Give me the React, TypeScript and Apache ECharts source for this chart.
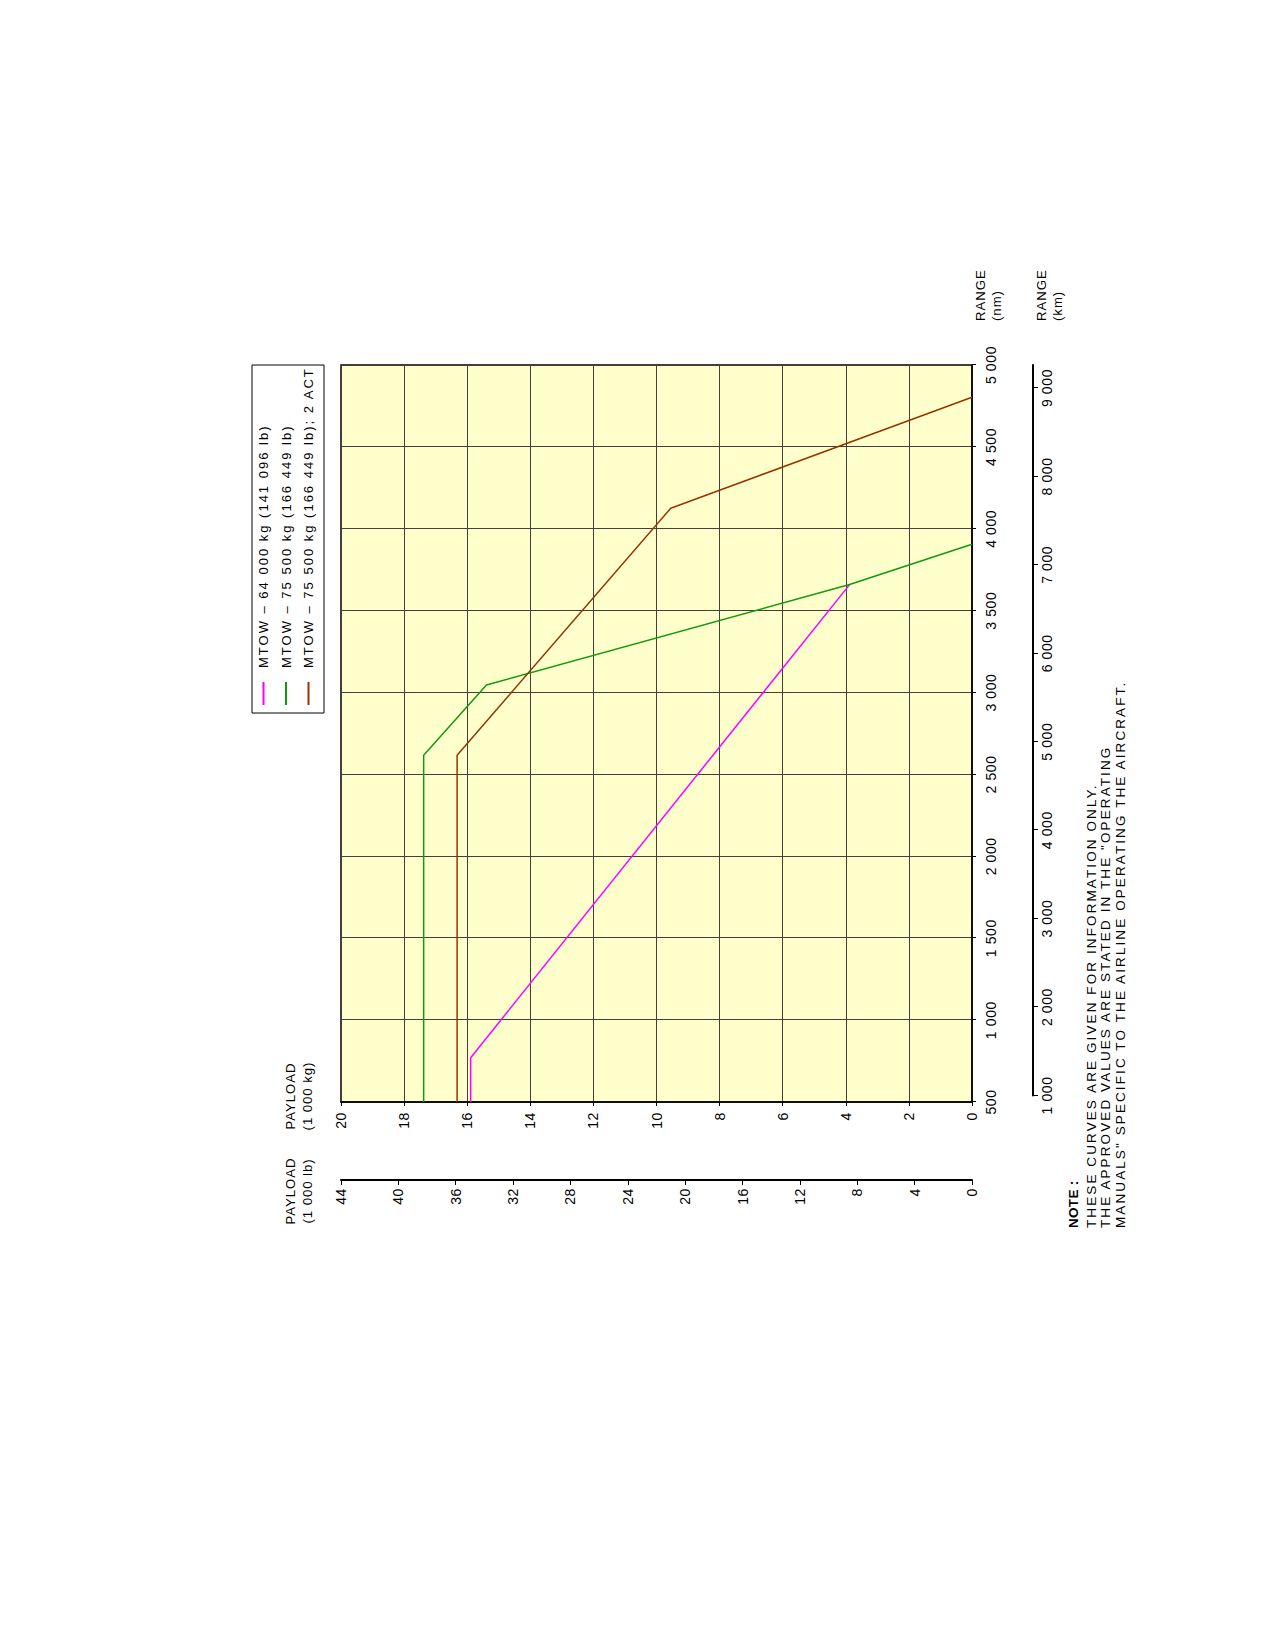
import React, { useEffect, useRef } from "react";
import * as echarts from "echarts";

// ---------- data ----------
const rangeNmMin = 500;
const rangeNmMax = 5000;
const rangeNmStep = 500;
const payloadKgMin = 0;
const payloadKgMax = 20;
const payloadKgStep = 2;
const payloadLbMin = 0;
const payloadLbMax = 44;
const payloadLbStep = 4;
const NM_TO_KM = 1.852;
const rangeKmTicks = [1000, 2000, 3000, 4000, 5000, 6000, 7000, 8000, 9000];

const seriesNames = [
  "MTOW – 64 000 kg (141 096 lb)",
  "MTOW – 75 500 kg (166 449 lb)",
  "MTOW – 75 500 kg (166 449 lb); 2 ACT",
];
const seriesColors = ["#FF00FF", "#109A10", "#993300"];

// range in nm, payload in 1 000 kg
const mtow64000Range = [500, 770, 3659];
const mtow64000Payload = [15.89, 15.89, 3.88];
const mtow75500Range = [500, 2617, 3046, 3660, 3905];
const mtow75500Payload = [17.38, 17.38, 15.39, 3.88, 0];
const mtow75500ActRange = [500, 2617, 4125, 4803];
const mtow75500ActPayload = [16.32, 16.32, 9.55, 0];

const axisNamePayloadLb = "PAYLOAD\n(1 000 lb)";
const axisNamePayloadKg = "PAYLOAD\n(1 000 kg)";
const axisNameRangeNm = "RANGE\n(nm)";
const axisNameRangeKm = "RANGE\n(km)";
const noteTitle = "NOTE :";
const noteLines = [
  "THESE CURVES ARE GIVEN FOR INFORMATION ONLY.",
  'THE APPROVED VALUES ARE STATED IN THE "OPERATING',
  'MANUALS" SPECIFIC TO THE AIRLINE OPERATING THE AIRCRAFT.',
];

const FONT = '"Liberation Sans", Arial, sans-serif';

const fmtThousands = (v: number) => {
  const n = Math.round(v);
  if (n < 1000) return String(n);
  return Math.floor(n / 1000) + " " + String(n % 1000).padStart(3, "0");
};

// ---------- layout (landscape frame, rotated -90deg on the page) ----------
const FRAME_W = 1645;
const FRAME_H = 1275;
const GRID_LEFT = 543;
const GRID_RIGHT = 365;
const GRID_TOP = 341;
const GRID_BOTTOM = 303;
const gridWidth = FRAME_W - GRID_LEFT - GRID_RIGHT;
const kmMinOnAxis = rangeNmMin * NM_TO_KM;
const kmMaxOnAxis = rangeNmMax * NM_TO_KM;
const kmAxisStart = rangeKmTicks[0];
const kmGridLeft =
  GRID_LEFT + ((kmAxisStart - kmMinOnAxis) / (kmMaxOnAxis - kmMinOnAxis)) * gridWidth;

const NAME_SIZE = 13.2;
const NOTE_SIZE = 13.5;
const LEGEND_SIZE = 13;
const TICK_SIZE = 14;

export default function App() {
  const ref = useRef<HTMLDivElement>(null);

  useEffect(() => {
    if (!ref.current) return;
    const chart = echarts.init(ref.current, undefined, { renderer: "svg" });

    const ranges = [mtow64000Range, mtow75500Range, mtow75500ActRange];
    const payloads = [mtow64000Payload, mtow75500Payload, mtow75500ActPayload];

    const axisLabelBase = { fontFamily: FONT, fontSize: TICK_SIZE, color: "#000" };
    const rangeNameStyle = {
      fontFamily: FONT,
      fontSize: NAME_SIZE,
      color: "#000",
      lineHeight: 16,
      align: "left",
      verticalAlign: "top",
    };

    chart.setOption({
      animation: false,
      textStyle: { fontFamily: FONT, color: "#000" },
      grid: [
        {
          left: GRID_LEFT,
          right: GRID_RIGHT,
          top: GRID_TOP,
          bottom: GRID_BOTTOM,
          show: true,
          backgroundColor: "#FFFFCC",
          borderColor: "#000",
          borderWidth: 1.5,
        },
        {
          left: kmGridLeft,
          right: GRID_RIGHT,
          top: GRID_TOP,
          bottom: GRID_BOTTOM,
          show: false,
        },
      ],
      xAxis: [
        {
          type: "value",
          gridIndex: 0,
          position: "bottom",
          min: rangeNmMin,
          max: rangeNmMax,
          interval: rangeNmStep,
          axisLine: { show: true, onZero: false, lineStyle: { color: "#000", width: 1.5 } },
          axisTick: { show: true, length: 4, lineStyle: { color: "#000", width: 1 } },
          axisLabel: { ...axisLabelBase, margin: 12, formatter: fmtThousands },
          splitLine: { show: true, lineStyle: { color: "#404040", width: 1 } },
          name: axisNameRangeNm,
          nameLocation: "end",
          nameGap: 44,
          nameTextStyle: rangeNameStyle,
        },
        {
          type: "value",
          gridIndex: 1,
          position: "bottom",
          offset: 61,
          min: kmAxisStart,
          max: kmMaxOnAxis,
          interval: 1000,
          axisLine: { show: true, onZero: false, lineStyle: { color: "#000", width: 2 } },
          axisTick: {
            show: true,
            length: 5,
            customValues: rangeKmTicks,
            lineStyle: { color: "#000", width: 1 },
          },
          axisLabel: {
            ...axisLabelBase,
            margin: 7,
            customValues: rangeKmTicks,
            formatter: fmtThousands,
          },
          splitLine: { show: false },
          name: axisNameRangeKm,
          nameLocation: "end",
          nameGap: 44,
          nameTextStyle: rangeNameStyle,
        },
      ],
      yAxis: [
        {
          type: "value",
          gridIndex: 0,
          position: "left",
          min: payloadKgMin,
          max: payloadKgMax,
          interval: payloadKgStep,
          axisLine: { show: true, onZero: false, lineStyle: { color: "#000", width: 1.5 } },
          axisTick: { show: true, length: 4, lineStyle: { color: "#000", width: 1 } },
          axisLabel: { ...axisLabelBase, margin: 10 },
          splitLine: { show: true, lineStyle: { color: "#404040", width: 1 } },
          name: axisNamePayloadKg,
          nameLocation: "end",
          nameGap: 25,
          nameTextStyle: {
            fontFamily: FONT,
            fontSize: NAME_SIZE,
            color: "#000",
            lineHeight: 17,
            align: "center",
            verticalAlign: "bottom",
            padding: [0, 0, 0, 12],
          },
        },
        {
          type: "value",
          gridIndex: 0,
          position: "left",
          offset: 78,
          min: payloadLbMin,
          max: payloadLbMax,
          interval: payloadLbStep,
          axisLine: { show: true, onZero: false, lineStyle: { color: "#000", width: 2 } },
          axisTick: { show: true, length: 5, lineStyle: { color: "#000", width: 1 } },
          axisLabel: { ...axisLabelBase, margin: 8 },
          splitLine: { show: false },
          name: axisNamePayloadLb,
          nameLocation: "end",
          nameGap: 25,
          nameTextStyle: {
            fontFamily: FONT,
            fontSize: NAME_SIZE,
            color: "#000",
            lineHeight: 17,
            align: "center",
            verticalAlign: "bottom",
            padding: [0, 22, 0, 0],
          },
        },
        {
          type: "value",
          gridIndex: 1,
          show: false,
          min: 0,
          max: 1,
        },
      ],
      legend: {
        orient: "vertical",
        left: 940,
        top: 256,
        padding: 0,
        itemWidth: 23,
        itemHeight: 2,
        itemGap: 7.5,
        icon: "rect",
        selectedMode: false,
        data: seriesNames,
        textStyle: {
          fontFamily: FONT,
          fontSize: LEGEND_SIZE,
          color: "#000",
          lineHeight: 15,
          padding: [0, 0, 0, 9],
        },
      },
      graphic: [
        {
          type: "rect",
          shape: { x: 932, y: 252, width: FRAME_W - GRID_RIGHT - 932, height: 72 },
          style: { fill: "none", stroke: "#000", lineWidth: 1 },
          silent: true,
        },
        {
          type: "text",
          x: 417,
          y: 1073,
          style: {
            text: noteTitle,
            font: `bold ${NOTE_SIZE}px "Liberation Sans", Arial, sans-serif`,
            fill: "#000",
            align: "left",
            verticalAlign: "middle",
            textAlign: "left",
            textVerticalAlign: "middle",
          },
        },
        {
          type: "text",
          x: 417,
          y: 1084,
          style: {
            text: noteLines.join("\n"),
            font: `${NOTE_SIZE}px "Liberation Sans", Arial, sans-serif`,
            lineHeight: 14.4,
            fill: "#000",
            align: "left",
            verticalAlign: "top",
            textAlign: "left",
            textVerticalAlign: "top",
          },
        },
      ],
      series: seriesNames.map((name, i) => ({
        type: "line",
        name,
        xAxisIndex: 0,
        yAxisIndex: 0,
        data: ranges[i].map((r, j) => [r, payloads[i][j]]),
        showSymbol: false,
        symbol: "none",
        lineStyle: { color: seriesColors[i], width: 1.5 },
        itemStyle: { color: seriesColors[i] },
        z: 3,
      })),
    });

    return () => chart.dispose();
  }, []);

  return (
    <div
      style={{
        position: "fixed",
        left: 0,
        top: 0,
        width: 1275,
        height: 1645,
        overflow: "hidden",
        background: "#fff",
      }}
    >
      <style>{`
        .rchart text { letter-spacing: 2px; }
        .rchart text[style*="${TICK_SIZE}px"] { letter-spacing: 0.6px; }
        .rchart text[style*="${NAME_SIZE}px"] { letter-spacing: 0.95px; }
        .rchart text[style*="${NOTE_SIZE}px"] { letter-spacing: 2.1px; }
        .rchart text[style*="bold"] { letter-spacing: 0.3px; }
      `}</style>
      <div
        ref={ref}
        className="rchart"
        style={{
          position: "absolute",
          left: 0,
          top: 0,
          width: FRAME_W,
          height: FRAME_H,
          transformOrigin: "0 0",
          transform: `translate(0px, ${FRAME_W}px) rotate(-90deg)`,
        }}
      />
    </div>
  );
}
